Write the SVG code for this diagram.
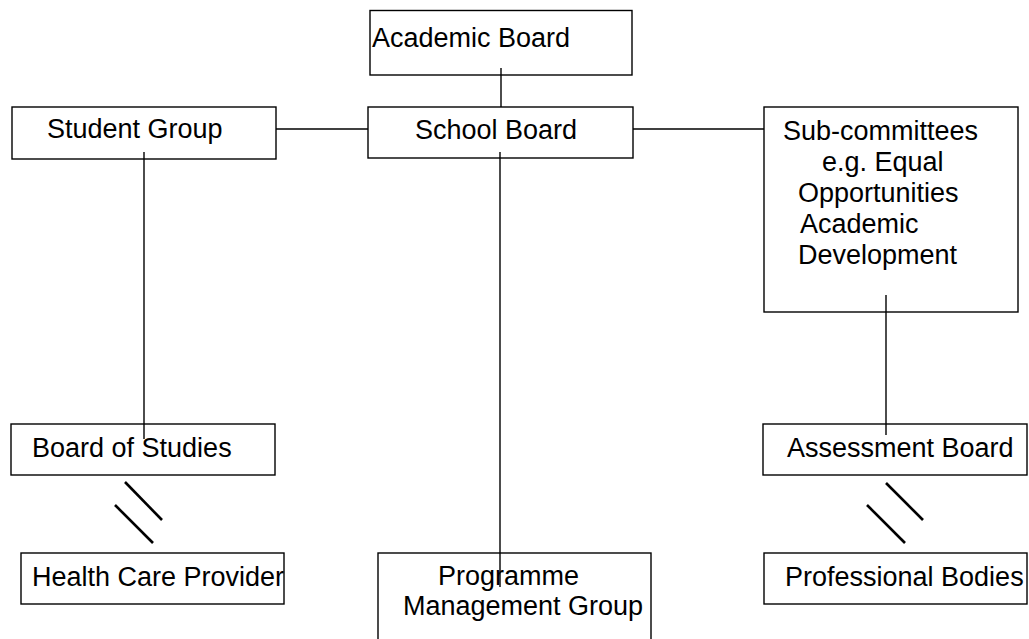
<svg xmlns="http://www.w3.org/2000/svg" width="1029" height="639" viewBox="0 0 1029 639">
<style>
.box{fill:#fff;stroke:#000;stroke-width:1.4}
.t{font-family:"Liberation Sans",Arial,sans-serif;font-size:27px;fill:#000}
.c{stroke:#000;stroke-width:1.4;fill:none}
.s{stroke:#000;stroke-width:2.6;fill:none}
</style>
<rect width="1029" height="639" fill="#fff"/>
<g id="nodes">
<g id="academic-board"><rect class="box" x="370" y="10.5" width="262" height="64.5"/><text class="t" x="372" y="47">Academic Board</text></g>
<g id="student-group"><rect class="box" x="12" y="107" width="264" height="52"/><text class="t" x="47" y="138">Student Group</text></g>
<g id="school-board"><rect class="box" x="368" y="107" width="265" height="51"/><text class="t" x="415" y="139">School Board</text></g>
<g id="sub-committees"><rect class="box" x="764" y="107" width="254" height="205"/>
<text class="t"><tspan x="783" y="140">Sub-committees</tspan><tspan x="822" y="171">e.g. Equal</tspan><tspan x="798" y="202">Opportunities</tspan><tspan x="800" y="233">Academic</tspan><tspan x="798" y="264">Development</tspan></text></g>
<g id="board-of-studies"><rect class="box" x="11" y="424" width="264" height="51"/><text class="t" x="32" y="457">Board of Studies</text></g>
<g id="assessment-board"><rect class="box" x="763" y="424" width="264" height="51"/><text class="t" x="787" y="457">Assessment Board</text></g>
<g id="health-care-provider"><rect class="box" x="21" y="553" width="263" height="51"/><text class="t" x="32" y="586">Health Care Provider</text></g>
<g id="programme-management-group"><rect class="box" x="378" y="553" width="273" height="95"/><text class="t"><tspan x="438" y="585">Programme</tspan><tspan x="403" y="615">Management Group</tspan></text></g>
<g id="professional-bodies"><rect class="box" x="764" y="553" width="263" height="51"/><text class="t" x="785" y="586">Professional Bodies</text></g>
</g>
<g id="connectors">
<line class="c" x1="501" y1="68" x2="501" y2="107"/>
<line class="c" x1="276" y1="129" x2="368" y2="129"/>
<line class="c" x1="633" y1="129" x2="764" y2="129"/>
<line class="c" x1="144" y1="152" x2="144" y2="439"/>
<line class="c" x1="500" y1="152" x2="500" y2="587"/>
<line class="c" x1="886" y1="295" x2="886" y2="435"/>
<line class="s" x1="125" y1="482" x2="162" y2="520"/>
<line class="s" x1="115" y1="505" x2="153" y2="543"/>
<line class="s" x1="886" y1="483" x2="923" y2="520"/>
<line class="s" x1="867" y1="505" x2="905" y2="543"/>
</g>
</svg>
